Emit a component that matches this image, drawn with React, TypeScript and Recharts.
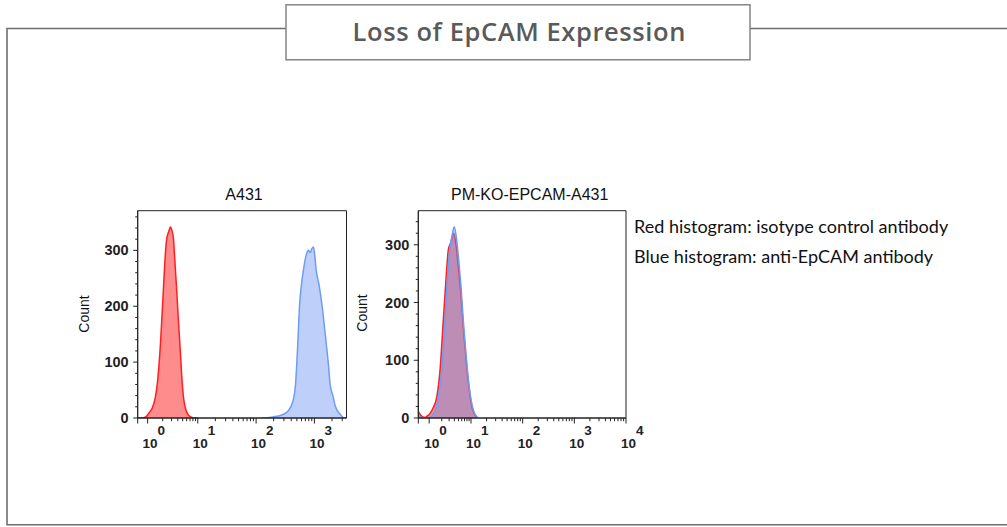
import React from 'react'
import { AreaChart, Area, XAxis, YAxis, ReferenceArea } from 'recharts'

// x values are in display units on the biexponential axis: 1 unit = one decade
// A431
const a431RedX = [-0.03, 0.057, 0.12, 0.172, 0.22, 0.269, 0.31, 0.335, 0.355, 0.385, 0.417, 0.445, 0.468, 0.5, 0.532, 0.555, 0.583, 0.605, 0.63, 0.665, 0.698, 0.725, 0.755, 0.79, 0.828, 0.88, 0.943, 1.0]
const a431RedCount = [0, 0, 3, 10, 18, 35, 65, 95, 124, 180, 243, 295, 321, 333, 342, 336, 321, 285, 243, 180, 124, 75, 37, 17, 7, 2, 0, 0]
const a431BlueX = [2.1, 2.144, 2.287, 2.43, 2.544, 2.63, 2.676, 2.699, 2.722, 2.744, 2.779, 2.819, 2.859, 2.899, 2.927, 2.956, 2.985, 3.007, 3.03, 3.076, 3.133, 3.185, 3.236, 3.27, 3.316, 3.362, 3.431, 3.516, 3.55]
const a431BlueCount = [0, 0, 2, 5, 12, 30, 60, 100, 150, 200, 240, 270, 292, 300, 296, 303, 306, 290, 265, 240, 200, 150, 100, 60, 40, 20, 8, 0, 0]

// PM-KO-EPCAM-A431
const koRedX = [-0.02, 0.0, 0.066, 0.11, 0.162, 0.207, 0.259, 0.337, 0.4, 0.464, 0.516, 0.561, 0.613, 0.665, 0.71, 0.762, 0.807, 0.851, 0.903, 0.967, 1.033, 1.13]
const koRedCount = [12, 8, 2, 1, 4, 8, 16, 36, 82, 169, 240, 291, 305, 320, 300, 255, 212, 158, 103, 48, 14, 0]
const koBlueX = [-0.02, 0.1, 0.193, 0.304, 0.368, 0.433, 0.497, 0.536, 0.58, 0.632, 0.677, 0.72, 0.745, 0.774, 0.807, 0.851, 0.903, 0.967, 1.033, 1.13]
const koBlueCount = [2, 0, 1, 13, 36, 82, 169, 230, 285, 315, 331, 310, 290, 262, 227, 169, 111, 53, 18, 0]

// axis decades: first major is 10^0, squeezed by the linear part near zero
const a431Majors = [0.14, 1, 2, 3]
const a431Exps = ['0', '1', '2', '3']
const koMajors = [0.19, 1, 2, 3, 4]
const koExps = ['0', '1', '2', '3', '4']

const a431XDomain: [number, number] = [-0.03, 3.55]
const koXDomain: [number, number] = [-0.02, 4.0]
const a431YMax = 371
const koYMax = 359

const merge = (rx: number[], ry: number[], bx: number[], by: number[]) => {
  const rows = new Map<number, any>()
  rx.forEach((x, i) => rows.set(x, { ...(rows.get(x) || { x }), red: ry[i] }))
  bx.forEach((x, i) => rows.set(x, { ...(rows.get(x) || { x }), blue: by[i] }))
  return [...rows.values()].sort((a, b) => a.x - b.x)
}

const buildXTicks = (majors: number[], domain: [number, number]) => {
  const out: number[] = [domain[0], ...majors]
  majors.forEach((m, i) => {
    const span = i === 0 ? 1 - m : 1
    for (let k = 2; k <= 9; k++) {
      const v = m + span * Math.log10(k)
      if (v <= domain[1]) out.push(v)
    }
  })
  return out.sort((a, b) => a - b)
}

const yTicks = (max: number) => {
  const out: number[] = []
  for (let v = 0; v <= max; v += 20) out.push(v)
  return out
}

const INK = '#222'
const tickFont = '"Liberation Sans", Arial, sans-serif'

const makeXTick = (majors: number[], exps: string[], edge: number) => (props: any) => {
  const { x, y, payload } = props
  const i = majors.indexOf(payload.value)
  const big = i >= 0 || payload.value === edge
  return (
    <g>
      <line x1={x} x2={x} y1={y} y2={y + (big ? 5.5 : 3.2)} stroke={INK} strokeWidth={1} />
      {i >= 0 && (
        <>
          <text x={x - 5} y={y + 30} fontFamily={tickFont} fontWeight="bold" fontSize={13.5} fill={INK}>10</text>
          <text x={x + 10} y={y + 17} fontFamily={tickFont} fontWeight="bold" fontSize={13.5} fill={INK}>{exps[i]}</text>
        </>
      )}
    </g>
  )
}

const YTick = (props: any) => {
  const { x, y, payload } = props
  const major = payload.value % 100 === 0
  return (
    <g>
      <line x1={x - (major ? 4.5 : 2.5)} x2={x} y1={y} y2={y} stroke={INK} strokeWidth={1} />
      {major && (
        <text x={x - 9} y={y + 5} textAnchor="end" fontFamily={tickFont} fontWeight="bold" fontSize={14.5} fill={INK}>
          {payload.value}
        </text>
      )}
    </g>
  )
}

const Histogram = ({ data, xDomain, yMax, majors, exps, yWidth, right }: any) => (
  <AreaChart width={330} height={280} data={data} margin={{ top: 30.7, right, bottom: 0, left: 0 }}>
    <XAxis
      type="number"
      dataKey="x"
      domain={xDomain}
      allowDataOverflow
      ticks={buildXTicks(majors, xDomain)}
      interval={0}
      tick={makeXTick(majors, exps, xDomain[0])}
      tickLine={false}
      tickSize={0}
      tickMargin={0}
      height={42}
      axisLine={{ stroke: INK }}
    />
    <YAxis
      type="number"
      domain={[0, yMax]}
      allowDataOverflow
      ticks={yTicks(yMax)}
      interval={0}
      tick={YTick}
      tickLine={false}
      tickSize={0}
      tickMargin={0}
      width={yWidth}
      axisLine={{ stroke: INK }}
    />
    <Area type="monotone" dataKey="red" connectNulls stroke="#ff1f1f" strokeWidth={1.5} fill="#ff0000" fillOpacity={0.45} isAnimationActive={false} />
    <Area type="monotone" dataKey="blue" connectNulls stroke="#6d9cf7" strokeWidth={1.5} fill="#6490f0" fillOpacity={0.42} isAnimationActive={false} />
    <ReferenceArea x1={xDomain[0]} x2={xDomain[1]} y1={0} y2={yMax} fill="none" stroke={INK} strokeWidth={1} />
  </AreaChart>
)

export default function App() {
  const a431Data = merge(a431RedX, a431RedCount, a431BlueX, a431BlueCount)
  const koData = merge(koRedX, koRedCount, koBlueX, koBlueCount)
  const frame = '#6e6e6e'
  return (
    <div style={{ position: 'absolute', left: 0, top: 0, width: 1007, height: 527, background: '#fff', overflow: 'hidden' }}>
      <svg width={1007} height={527} style={{ position: 'absolute', left: 0, top: 0 }}>
        <path d="M1010 28.5 H7 V524.8 H1010" fill="none" stroke={frame} strokeWidth={1.6} />
        <rect x={286} y={4.8} width={464} height={55} fill="#fff" stroke="#858585" strokeWidth={1.5} />
        <text x={519.3} y={41} textAnchor="middle" fontFamily='"Open Sans", sans-serif' fontWeight={600} fontSize={25.5} letterSpacing={0.6} fill="#5a5a5a">
          Loss of EpCAM Expression
        </text>
        <text x={244} y={200} textAnchor="middle" fontFamily={tickFont} fontSize={16} fill="#111">A431</text>
        <text x={529.7} y={200} textAnchor="middle" fontFamily={tickFont} fontSize={16} fill="#111">PM-KO-EPCAM-A431</text>
        <text transform="translate(88.5 314) rotate(-90)" textAnchor="middle" fontFamily={tickFont} fontSize={14} fill="#111">Count</text>
        <text transform="translate(366.5 313) rotate(-90)" textAnchor="middle" fontFamily={tickFont} fontSize={14} fill="#111">Count</text>
        <text x={634} y={233} fontFamily='Lato, sans-serif' fontSize={18} fill="#111">Red histogram: isotype control antibody</text>
        <text x={634} y={263} fontFamily='Lato, sans-serif' fontSize={18} fill="#111">Blue histogram: anti-EpCAM antibody</text>
      </svg>
      <div style={{ position: 'absolute', left: 60, top: 180 }}>
        <Histogram data={a431Data} xDomain={a431XDomain} yMax={a431YMax} majors={a431Majors} exps={a431Exps} yWidth={77.7} right={43.5} />
      </div>
      <div style={{ position: 'absolute', left: 340, top: 180 }}>
        <Histogram data={koData} xDomain={koXDomain} yMax={koYMax} majors={koMajors} exps={koExps} yWidth={78.3} right={44} />
      </div>
    </div>
  )
}
